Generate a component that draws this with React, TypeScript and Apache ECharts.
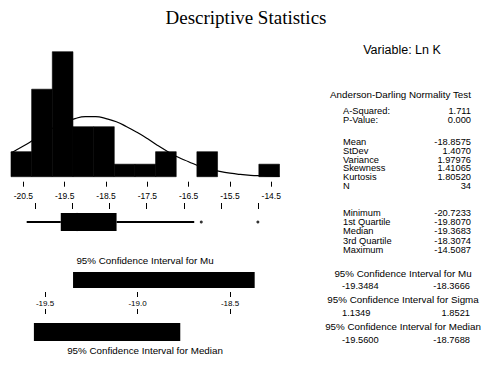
import React, { useEffect, useRef } from "react";
import * as echarts from "echarts";

// Histogram bins (Ln K), counts
const binLo = [-20.8, -20.3, -19.8, -19.3, -18.8, -18.3, -17.8, -17.3, -16.8, -16.3, -15.8, -15.3, -14.8];
const binHi = [-20.3, -19.8, -19.3, -18.8, -18.3, -17.8, -17.3, -16.8, -16.3, -15.8, -15.3, -14.8, -14.3];
const binCounts = [2, 7, 10, 4, 4, 1, 1, 2, 0, 2, 0, 0, 1];

// Fitted normal curve, heights (in counts)
const curveX = [-20.8, -20.5, -20.25, -20.0, -19.75, -19.5, -19.25, -19.0, -18.75, -18.5, -18.25, -18.0, -17.75, -17.5, -17.25, -17.0, -16.75, -16.5, -16.25, -16.0, -15.75, -15.5, -15.25, -15.0, -14.75, -14.5, -14.3];
const curveY = [1.9, 2.45, 2.95, 3.45, 3.95, 4.35, 4.65, 4.8, 4.8, 4.65, 4.4, 4.0, 3.55, 3.05, 2.5, 2.0, 1.55, 1.2, 0.85, 0.6, 0.42, 0.28, 0.18, 0.11, 0.07, 0.04, 0.03];

const histTicks = [-20.5, -19.5, -18.5, -17.5, -16.5, -15.5, -14.5];

// Boxplot: min, Q1, median, Q3, upper whisker end
const boxStats = [-20.7233, -19.807, -19.3683, -18.3074, -16.22];
const outliers = [-16.03, -14.5087];

// Confidence intervals
const muCI = [-19.3484, -18.3666];
const medianCI = [-19.56, -18.7688];
const ciTicks = [-19.5, -19.0, -18.5];

// Right-hand text panel
const adLabels = ["A-Squared:", "P-Value:"];
const adValues = ["1.711", "0.000"];
const momentLabels = ["Mean", "StDev", "Variance", "Skewness", "Kurtosis", "N"];
const momentValues = ["-18.8575", "1.4070", "1.97976", "1.41065", "1.80520", "34"];
const quantLabels = ["Minimum", "1st Quartile", "Median", "3rd Quartile", "Maximum"];
const quantValues = ["-20.7233", "-19.8070", "-19.3683", "-18.3074", "-14.5087"];
const ciTitles = ["95% Confidence Interval for Mu", "95% Confidence Interval for Sigma", "95% Confidence Interval for Median"];
const ciLows = ["-19.3484", "1.1349", "-19.5600"];
const ciHighs = ["-18.3666", "1.8521", "-18.7688"];

const SANS = "Liberation Sans, Arial, sans-serif";

export default function App() {
  const ref = useRef<HTMLDivElement>(null);

  useEffect(() => {
    if (!ref.current) return;
    const chart = echarts.init(ref.current, null, { renderer: "svg" });

    const txt = (text: string, x: number, y: number, size: number, align: string = "left") => ({
      type: "text",
      x,
      y,
      style: {
        text,
        fill: "#000",
        fontFamily: SANS,
        fontSize: size,
        textAlign: align,
        textVerticalAlign: "middle",
      },
    });

    const graphics: any[] = [];
    graphics.push(txt("Variable: Ln K", 402, 50, 12.5, "center"));
    graphics.push(txt("Anderson-Darling Normality Test", 400.5, 94, 9.8, "center"));
    const labX = 343;
    const valX = 471;
    const fs = 9.3;
    const adY = [111, 119.5];
    adLabels.forEach((l, i) => {
      graphics.push(txt(l, labX, adY[i], fs));
      graphics.push(txt(adValues[i], valX, adY[i], fs, "right"));
    });
    momentLabels.forEach((l, i) => {
      const y = 141.7 + i * 8.9;
      graphics.push(txt(l, labX, y, fs));
      graphics.push(txt(momentValues[i], valX, y, fs, "right"));
    });
    quantLabels.forEach((l, i) => {
      const y = 213 + i * 9.2;
      graphics.push(txt(l, labX, y, fs));
      graphics.push(txt(quantValues[i], valX, y, fs, "right"));
    });
    ciTitles.forEach((t, i) => {
      const y = 273 + i * 26.6;
      graphics.push(txt(t, 403, y, 9.8, "center"));
      graphics.push(txt(ciLows[i], 342, y + 13.4, fs));
      graphics.push(txt(ciHighs[i], 470, y + 13.4, fs, "right"));
    });
    graphics.push(txt("95% Confidence Interval for Mu", 145, 260, 9.8, "center"));
    graphics.push(txt("95% Confidence Interval for Median", 145, 350, 9.8, "center"));

    const hiddenY = (gridIndex: number, max: number) => ({
      type: "value",
      gridIndex,
      min: 0,
      max,
      show: false,
    });

    const ciRect = (params: any, api: any) => {
      const a = api.coord([api.value(0), 1]);
      const b = api.coord([api.value(1), 0]);
      return {
        type: "rect",
        shape: { x: a[0], y: a[1], width: b[0] - a[0], height: b[1] - a[1] },
        style: { fill: "#000" },
      };
    };

    const tickStyle = { color: "#000", width: 1 };

    const option: any = {
      animation: false,
      backgroundColor: "#fff",
      title: {
        text: "Descriptive Statistics",
        left: 241,
        textAlign: "center",
        top: 3,
        textStyle: {
          fontFamily: "Liberation Serif, Times New Roman, serif",
          fontSize: 19,
          fontWeight: "normal",
          color: "#000",
        },
      },
      graphic: graphics,
      grid: [
        { left: 11, top: 51.7, width: 268.5, height: 125 },
        { left: 23.84, top: 209, width: 241.8, height: 26 },
        { left: 26.5, top: 272, width: 240.5, height: 16 },
        { left: 26.5, top: 292, width: 240.5, height: 22 },
        { left: 26.5, top: 323, width: 240.5, height: 18 },
      ],
      xAxis: [
        {
          type: "value",
          gridIndex: 0,
          min: -20.8,
          max: -14.3,
          position: "bottom",
          offset: 5,
          splitLine: { show: false },
          axisLine: { show: false, onZero: false },
          axisTick: { show: true, customValues: histTicks, length: 5, lineStyle: tickStyle },
          axisLabel: {
            customValues: histTicks,
            margin: 10,
            fontSize: 8.5,
            color: "#000",
            fontFamily: SANS,
            formatter: (v: number) => v.toFixed(1),
          },
        },
        {
          type: "value",
          gridIndex: 1,
          min: -20.8,
          max: -14.3,
          position: "top",
          splitLine: { show: false },
          axisLine: { show: false, onZero: false },
          axisTick: { show: true, customValues: histTicks, length: 6, lineStyle: tickStyle },
          axisLabel: { show: false },
        },
        { type: "value", gridIndex: 2, min: -19.6, max: -18.3, show: false },
        {
          type: "value",
          gridIndex: 3,
          min: -19.6,
          max: -18.3,
          position: "top",
          splitLine: { show: false },
          axisLine: { show: false, onZero: false },
          axisTick: { show: true, inside: true, customValues: ciTicks, length: 5, lineStyle: tickStyle },
          axisLabel: {
            customValues: ciTicks,
            inside: true,
            margin: 7,
            fontSize: 8,
            color: "#000",
            fontFamily: SANS,
            formatter: (v: number) => v.toFixed(1),
          },
        },
        {
          type: "value",
          gridIndex: 3,
          min: -19.6,
          max: -18.3,
          position: "bottom",
          splitLine: { show: false },
          axisLine: { show: false, onZero: false },
          axisTick: { show: true, inside: true, customValues: ciTicks, length: 5, lineStyle: tickStyle },
          axisLabel: { show: false },
        },
        { type: "value", gridIndex: 4, min: -19.6, max: -18.3, show: false },
      ],
      yAxis: [hiddenY(0, 10), hiddenY(1, 1), hiddenY(2, 1), hiddenY(3, 1), hiddenY(4, 1)],
      series: [
        {
          type: "custom",
          xAxisIndex: 0,
          yAxisIndex: 0,
          data: binLo.map((lo, i) => [lo, binHi[i], binCounts[i]]),
          encode: { x: [0, 1], y: 2 },
          renderItem: (params: any, api: any) => {
            if (api.value(2) <= 0) return null;
            const a = api.coord([api.value(0), api.value(2)]);
            const b = api.coord([api.value(1), 0]);
            return {
              type: "rect",
              shape: { x: a[0], y: a[1], width: b[0] - a[0], height: b[1] - a[1] },
              style: { fill: "#000", stroke: "#000", lineWidth: 0.6 },
            };
          },
        },
        {
          type: "line",
          xAxisIndex: 0,
          yAxisIndex: 0,
          data: curveX.map((x, i) => [x, curveY[i]]),
          smooth: true,
          symbol: "none",
          lineStyle: { color: "#000", width: 1.2 },
          z: 3,
        },
        {
          type: "custom",
          xAxisIndex: 1,
          yAxisIndex: 1,
          data: [[...boxStats, 0.5]],
          encode: { x: [0, 1, 2, 3, 4], y: 5 },
          renderItem: (params: any, api: any) => {
            const y = api.value(5);
            const pMin = api.coord([api.value(0), y]);
            const pQ1 = api.coord([api.value(1), y]);
            const pMed = api.coord([api.value(2), y]);
            const pQ3 = api.coord([api.value(3), y]);
            const pMax = api.coord([api.value(4), y]);
            const h = api.size([0, 0.7])[1];
            return {
              type: "group",
              children: [
                { type: "line", shape: { x1: pMin[0], y1: pMin[1], x2: pQ1[0], y2: pQ1[1] }, style: { stroke: "#000", lineWidth: 2 } },
                { type: "line", shape: { x1: pQ3[0], y1: pQ3[1], x2: pMax[0], y2: pMax[1] }, style: { stroke: "#000", lineWidth: 2 } },
                { type: "rect", shape: { x: pQ1[0], y: pQ1[1] - h / 2, width: pQ3[0] - pQ1[0], height: h }, style: { fill: "#000" } },
                { type: "line", shape: { x1: pMed[0], y1: pMed[1] - h / 2, x2: pMed[0], y2: pMed[1] + h / 2 }, style: { stroke: "#000", lineWidth: 1 } },
              ],
            };
          },
        },
        {
          type: "scatter",
          xAxisIndex: 1,
          yAxisIndex: 1,
          data: outliers.map((v) => [v, 0.5]),
          symbol: "circle",
          symbolSize: 3,
          itemStyle: { color: "#000" },
        },
        {
          type: "custom",
          xAxisIndex: 2,
          yAxisIndex: 2,
          data: [[muCI[0], muCI[1], 0.5]],
          encode: { x: [0, 1], y: 2 },
          renderItem: ciRect,
        },
        {
          type: "custom",
          xAxisIndex: 5,
          yAxisIndex: 4,
          data: [[medianCI[0], medianCI[1], 0.5]],
          encode: { x: [0, 1], y: 2 },
          renderItem: ciRect,
        },
      ],
    };

    chart.setOption(option);
    return () => chart.dispose();
  }, []);

  return (
    <div
      ref={ref}
      style={{ position: "absolute", left: 0, top: 0, width: 485, height: 367, background: "#fff" }}
    />
  );
}
